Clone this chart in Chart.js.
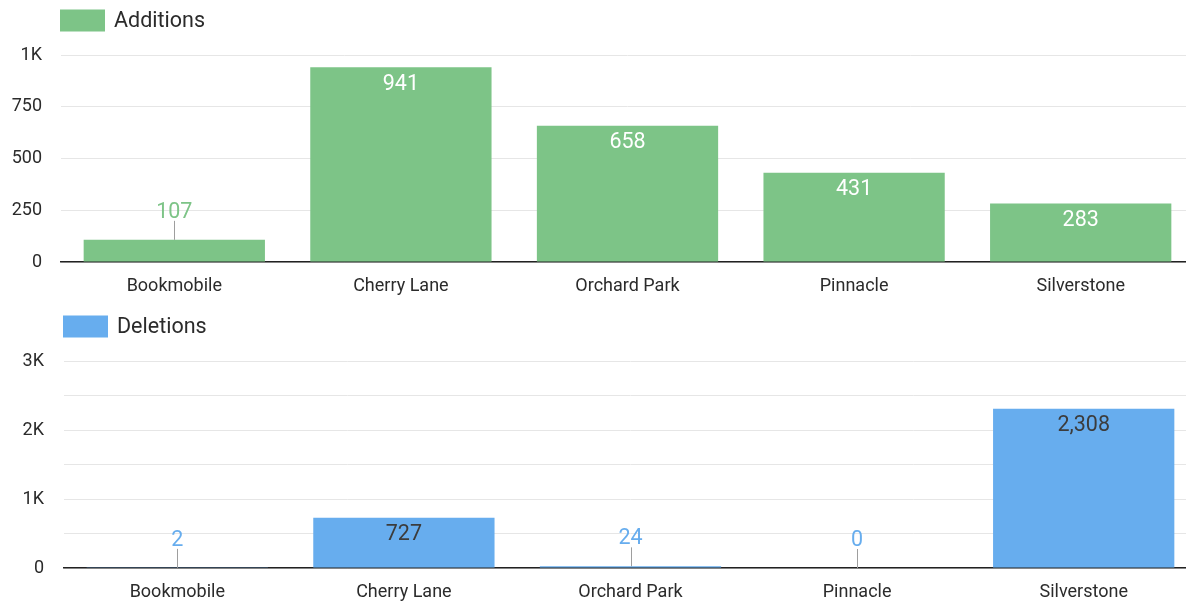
<!DOCTYPE html>
<html>
<head>
<meta charset="utf-8">
<script src="https://cdn.jsdelivr.net/npm/chart.js@4.4.1/dist/chart.umd.min.js"></script>
<style>
  html, body { margin: 0; padding: 0; background: #fff; overflow: hidden; }
  .panel { position: absolute; left: 0; width: 1200px; height: 300px; }
  #top { top: 0; }
  #bottom { top: 306px; }
</style>
</head>
<body>
<div class="panel" id="top"><canvas id="additionsChart" width="1200" height="300"></canvas></div>
<div class="panel" id="bottom"><canvas id="deletionsChart" width="1200" height="300"></canvas></div>
<script>
// Branch names along the x axis
const categories = ['Bookmobile', 'Cherry Lane', 'Orchard Park', 'Pinnacle', 'Silverstone'];

// Item counts per branch
const additions = [107, 941, 658, 431, 283];
const deletions = [2, 727, 24, 0, 2308];

// Gridline values; labelled values are listed separately
const additionGrid = [0, 250, 500, 750, 1000];
const additionTickLabels = [0, 250, 500, 750, 1000];
const deletionGrid = [0, 500, 1000, 1500, 2000, 2500, 3000];
const deletionTickLabels = [0, 1000, 2000, 3000];

const FONT = 'Roboto, "Noto Sans", Arial, sans-serif';
const GREEN = '#7dc487';
const BLUE = '#67adee';
const TEXT = '#2b2b2b';

function shortNumber(v) {
  return v >= 1000 ? (v / 1000) + 'K' : String(v);
}

// Legend swatch + caption drawn in the top-left corner
const legendPlugin = {
  id: 'cornerLegend',
  afterDraw(chart, args, opts) {
    const ctx = chart.ctx;
    const x = chart.chartArea.left + opts.dx;
    ctx.save();
    ctx.fillStyle = opts.color;
    ctx.fillRect(x, 9.5, 45, 22);
    ctx.fillStyle = TEXT;
    ctx.font = '21.5px ' + FONT;
    ctx.textBaseline = 'middle';
    ctx.textAlign = 'left';
    ctx.fillText(opts.text, x + 54, 22);
    ctx.restore();
  }
};

// Value labels: inside tall bars, above short bars with a leader line
const valueLabelPlugin = {
  id: 'valueLabels',
  afterDatasetsDraw(chart, args, opts) {
    const ctx = chart.ctx;
    const ds = chart.data.datasets[0];
    const meta = chart.getDatasetMeta(0);
    ctx.save();
    ctx.font = '21.5px ' + FONT;
    ctx.textAlign = 'center';
    ctx.textBaseline = 'middle';
    meta.data.forEach((bar, i) => {
      const value = ds.data[i];
      const text = value.toLocaleString('en-US');
      const h = bar.base - bar.y;
      if (h >= 40) {
        ctx.fillStyle = opts.insideColor;
        ctx.fillText(text, bar.x, bar.y + 17);
      } else {
        ctx.strokeStyle = '#9e9e9e';
        ctx.lineWidth = 1;
        ctx.beginPath();
        ctx.moveTo(Math.round(bar.x) + 0.5, bar.y);
        ctx.lineTo(Math.round(bar.x) + 0.5, bar.y - 19);
        ctx.stroke();
        ctx.fillStyle = ds.backgroundColor;
        ctx.fillText(text, bar.x, bar.y - 27.5);
      }
    });
    ctx.restore();
  }
};

function makeChart(canvasId, label, values, color, grid, tickLabels, yMax, yWidth, yPad, rightPad, insideColor) {
  return new Chart(document.getElementById(canvasId), {
    type: 'bar',
    data: {
      labels: categories,
      datasets: [{
        label: label,
        data: values,
        backgroundColor: color,
        borderWidth: 0,
        categoryPercentage: 1,
        barPercentage: 0.8
      }]
    },
    options: {
      responsive: false,
      animation: false,
      layout: { padding: { top: 55, right: rightPad, left: 0, bottom: 0 } },
      plugins: {
        legend: { display: false },
        tooltip: { enabled: false },
        cornerLegend: { text: label, color: color, dx: -1 },
        valueLabels: { insideColor: insideColor }
      },
      scales: {
        x: {
          grid: { display: false, drawTicks: false },
          border: { display: true, color: '#222', width: 1.5 },
          ticks: { color: TEXT, font: { family: FONT, size: 18 }, padding: 14 },
          afterFit(scale) { scale.height = 38; }
        },
        y: {
          min: 0,
          max: yMax,
          afterBuildTicks(scale) { scale.ticks = grid.map(v => ({ value: v })); },
          grid: { color: '#e6e6e6', lineWidth: 1, drawTicks: false },
          border: { display: false },
          ticks: {
            color: TEXT,
            font: { family: FONT, size: 18 },
            padding: yPad,
            callback: v => tickLabels.includes(v) ? shortNumber(v) : ''
          },
          afterFit(scale) { scale.width = yWidth; }
        }
      }
    },
    plugins: [legendPlugin, valueLabelPlugin]
  });
}

makeChart('additionsChart', 'Additions', additions, GREEN, additionGrid, additionTickLabels, 1000, 61, 19, 6, '#ffffff');
makeChart('deletionsChart', 'Deletions', deletions, BLUE, deletionGrid, deletionTickLabels, 3000, 64, 20, 3, '#3c3c3c');
</script>
</body>
</html>
